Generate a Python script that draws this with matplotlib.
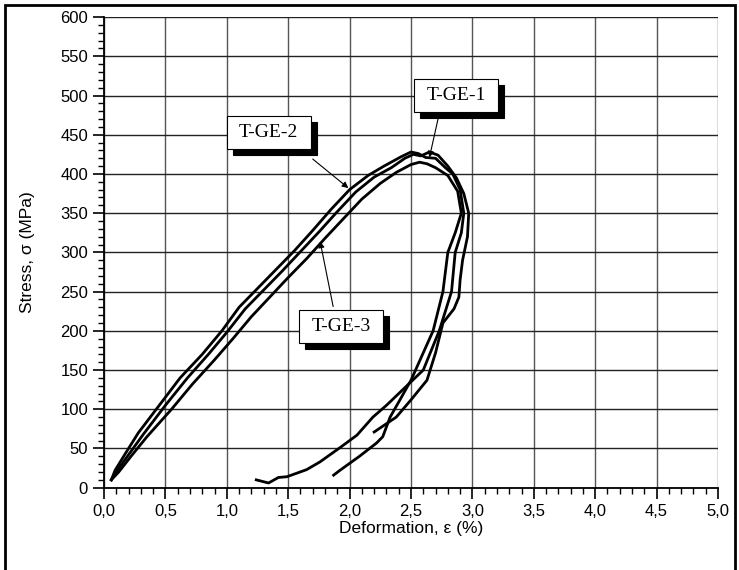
import matplotlib.pyplot as plt
import matplotlib.patches as patches
import numpy as np

# T-GE-1 (middle loading branch, outermost right branch)
ge1_x = [0.06, 0.10, 0.20, 0.32, 0.50, 0.68, 0.85, 1.00, 1.15, 1.30, 1.45, 1.60, 1.75, 1.90,
         2.05, 2.20, 2.34, 2.45, 2.52, 2.58, 2.65, 2.72, 2.80, 2.87, 2.93, 2.97, 2.96, 2.92, 2.90,
         2.89, 2.85, 2.76, 2.70, 2.63, 2.50, 2.38, 2.20]
ge1_y = [10, 20, 42, 68, 105, 140, 170, 198, 228, 252, 276, 301, 326, 352,
         377, 396, 408, 420, 425, 423, 428, 424, 410, 395, 375, 350, 320, 290, 265,
         243, 228, 210, 172, 137, 112, 90, 71]

# T-GE-2 (leftmost loading branch)
ge2_x = [0.06, 0.09, 0.18, 0.28, 0.45, 0.62, 0.80, 0.96, 1.10, 1.25, 1.40, 1.55, 1.70, 1.85,
         2.00, 2.15, 2.28, 2.42, 2.50, 2.56, 2.62, 2.70, 2.78, 2.84, 2.90, 2.93, 2.91, 2.86,
         2.83, 2.73, 2.60, 2.46, 2.30, 2.19, 2.06, 1.93, 1.76, 1.65, 1.49, 1.42, 1.34, 1.24]
ge2_y = [10, 22, 45, 70, 105, 140, 170, 200, 230, 254, 278, 302, 328, 355,
         380, 398, 410, 422, 428, 426, 421, 420, 408, 400, 380, 350, 325, 300,
         250, 200, 150, 129, 105, 90, 67, 52, 33, 23, 14, 13, 6, 10]

# T-GE-3 (lowest loading branch, inner right branch)
ge3_x = [0.06, 0.12, 0.22, 0.35, 0.55, 0.72, 0.90, 1.05, 1.20, 1.35, 1.50, 1.65, 1.80, 1.95,
         2.10, 2.25, 2.38, 2.50, 2.57, 2.63, 2.70, 2.80, 2.88, 2.91, 2.86, 2.80, 2.78, 2.76,
         2.68, 2.58, 2.50, 2.41, 2.33, 2.27, 2.22, 2.08, 1.92, 1.87]
ge3_y = [10, 20, 40, 65, 100, 132, 163, 190, 218, 243, 268, 292, 318, 343,
         368, 388, 402, 412, 415, 413, 408, 398, 378, 350, 325, 300, 275, 250,
         200, 165, 137, 112, 90, 65, 57, 40, 22, 16]

x_ticks = [0, 0.5, 1.0, 1.5, 2.0, 2.5, 3.0, 3.5, 4.0, 4.5, 5.0]
x_labels = ['0,0', '0,5', '1,0', '1,5', '2,0', '2,5', '3,0', '3,5', '4,0', '4,5', '5,0']
y_ticks = list(range(0, 601, 50))

# label name, centre (data), arrow tail, arrow head
label_names = ['T-GE-1', 'T-GE-2', 'T-GE-3']
label_pos = [(2.87, 500), (1.34, 453), (1.93, 205)]
arrow_from = [(2.72, 470), (1.70, 419), (1.866, 231)]
arrow_to = [(2.65, 421), (1.99, 382), (1.76, 314)]

plt.rcParams['font.family'] = ['Liberation Sans', 'DejaVu Sans']

fig = plt.figure(figsize=(7.39, 5.70), dpi=100)
ax = fig.add_axes([0.1407, 0.1444, 0.8309, 0.8256])

for xs, ys in [(ge1_x, ge1_y), (ge2_x, ge2_y), (ge3_x, ge3_y)]:
    ax.plot(xs, ys, color='black', lw=2.0, solid_joinstyle='round', zorder=3)

ax.set_xlim(0, 5)
ax.set_ylim(0, 600)
ax.set_xticks(x_ticks)
ax.set_xticklabels(x_labels)
ax.set_yticks(y_ticks)
ax.set_xticks(np.arange(0, 5.01, 0.1), minor=True)
ax.set_yticks(np.arange(0, 601, 10), minor=True)
ax.tick_params(axis='both', which='major', length=8, width=1.2, labelsize=12, direction='out')
ax.tick_params(axis='both', which='minor', length=4.5, width=1.0, direction='out')
ax.grid(True, axis='y', which='major', color='#222222', lw=1.0)
ax.grid(True, axis='x', which='major', color='#555555', lw=1.0)
ax.set_axisbelow(True)
for s in ['top', 'right']:
    ax.spines[s].set_visible(False)
for s in ['left', 'bottom']:
    ax.spines[s].set_linewidth(1.3)

ax.set_xlabel('Deformation, ε (%)', fontsize=12.5, labelpad=2)
ax.set_ylabel('Stress, σ (MPa)', fontsize=12.5, labelpad=18)

# boxed labels with drop shadows (box ~84x33 px, shadow offset ~6 px)
serif = ['Liberation Serif', 'DejaVu Serif']
bw, bh = 84 / 122.9, 33 / 0.7845
dx, dy = 6 / 122.9, 6 / 0.7845
for name, (lx, ly) in zip(label_names, label_pos):
    ax.add_patch(patches.Rectangle((lx - bw / 2 + dx, ly - bh / 2 - dy), bw, bh,
                                   fc='black', ec='black', lw=0.8, zorder=5))
    ax.add_patch(patches.Rectangle((lx - bw / 2, ly - bh / 2), bw, bh,
                                   fc='white', ec='black', lw=0.8, zorder=6))
    ax.text(lx, ly, name, ha='center', va='center', fontsize=14, family=serif, zorder=7)

for (x0, y0), (x1, y1) in zip(arrow_from, arrow_to):
    ax.annotate('', xy=(x1, y1), xytext=(x0, y0), zorder=4,
                arrowprops=dict(arrowstyle='-|>', color='black', lw=0.8, mutation_scale=9,
                                shrinkA=0, shrinkB=0))

# outer frame
fig.patches.append(patches.Rectangle((5/739, -0.02), 730/739, 1 - 5/570 + 0.02,
                                     transform=fig.transFigure, fill=False, ec='black', lw=2))

fig.savefig('out.png', dpi=100)
